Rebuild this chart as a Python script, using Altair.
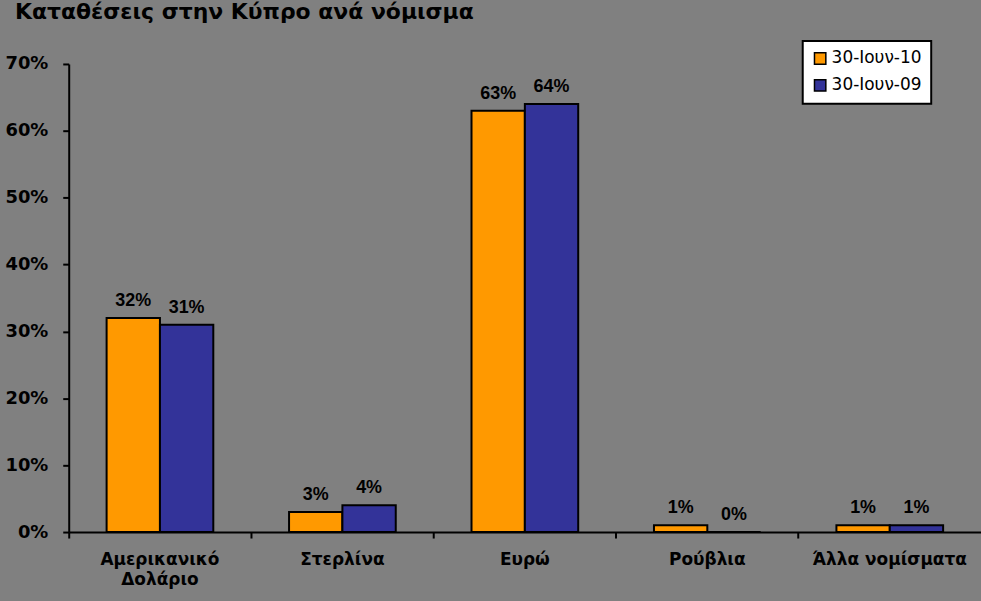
import altair as alt
import pandas as pd

categories = ["Αμερικανικό Δολάριο", "Στερλίνα", "Ευρώ", "Ρούβλια", "Άλλα νομίσματα"]
series = ["30-Ιουν-10", "30-Ιουν-09"]
values_2010 = [32, 3, 63, 1, 1]
values_2009 = [31, 4, 64, 0, 1]
colors = ["#FF9900", "#333399"]

rows = []
for c, a, b in zip(categories, values_2010, values_2009):
    rows.append({"cat": c, "series": series[0], "value": a / 100})
    rows.append({"cat": c, "series": series[1], "value": b / 100})
df = pd.DataFrame(rows)

FONT = "Liberation Sans"
WIDE = "DejaVu Sans"

x = alt.X("cat:N", sort=categories, title=None,
          scale=alt.Scale(paddingInner=0, paddingOuter=0),
          axis=alt.Axis(labelAngle=0, bandPosition=0, labelFont=WIDE, labelFontSize=17,
                        labelFontWeight="bold", labelColor="black", labelPadding=14,
                        domainColor="black", domainWidth=2, tickColor="black", tickWidth=2,
                        tickSize=6, labelLineHeight=20, labelBaseline="top",
                        labelExpr="datum.value == 'Αμερικανικό Δολάριο' ? split(datum.value, ' ') : datum.value"))
y = alt.Y("value:Q", title=None,
          scale=alt.Scale(domain=[0, 0.7], nice=False),
          axis=alt.Axis(format=".0%", values=[0, 0.1, 0.2, 0.3, 0.4, 0.5, 0.6, 0.7], grid=False,
                        labelFont=WIDE, labelFontSize=18, labelFontWeight="bold", labelColor="black",
                        labelPadding=15, domainColor="black", domainWidth=2, tickColor="black",
                        tickWidth=2, tickSize=6))
xo = alt.XOffset("series:N", sort=series, scale=alt.Scale(paddingInner=0, paddingOuter=0.71))
color = alt.Color("series:N", sort=series, scale=alt.Scale(domain=series, range=colors),
                  legend=alt.Legend(title=None, orient="none", legendX=737, legendY=-23,
                                    fillColor="white", strokeColor="black",
                                    padding=9, symbolType="square", symbolSize=130,
                                    symbolStrokeColor="black", symbolStrokeWidth=1.5,
                                    labelFont=WIDE, labelFontSize=17, labelColor="black",
                                    labelOffset=3, rowPadding=8, symbolOpacity=1))

bars = alt.Chart(df).mark_bar(stroke="black", strokeWidth=2, opacity=1).encode(
    x=x, xOffset=xo, y=y, color=color)

labels = alt.Chart(df).mark_text(dy=-12, baseline="alphabetic", font=FONT, fontSize=18,
                                 fontWeight="bold", color="black").encode(
    x=alt.X("cat:N", sort=categories), xOffset=xo, y="value:Q",
    text=alt.Text("value:Q", format=".0%"))

chart = alt.layer(bars, labels).properties(
    width=916, height=470,
    background="#808080",
    padding={"left": 69, "top": 63, "right": 0, "bottom": 68},
    autosize=alt.AutoSizeParams(type="none"),
    title=alt.TitleParams("Καταθέσεις στην Κύπρο ανά νόμισμα", anchor="start", frame="group",
                          dx=-54, offset=16, font=WIDE, fontSize=22, fontWeight="bold",
                          color="black"),
).configure_view(stroke=None).configure_legend(strokeWidth=2)

chart.save("out.html", embed_options={"renderer": "svg", "actions": False})
